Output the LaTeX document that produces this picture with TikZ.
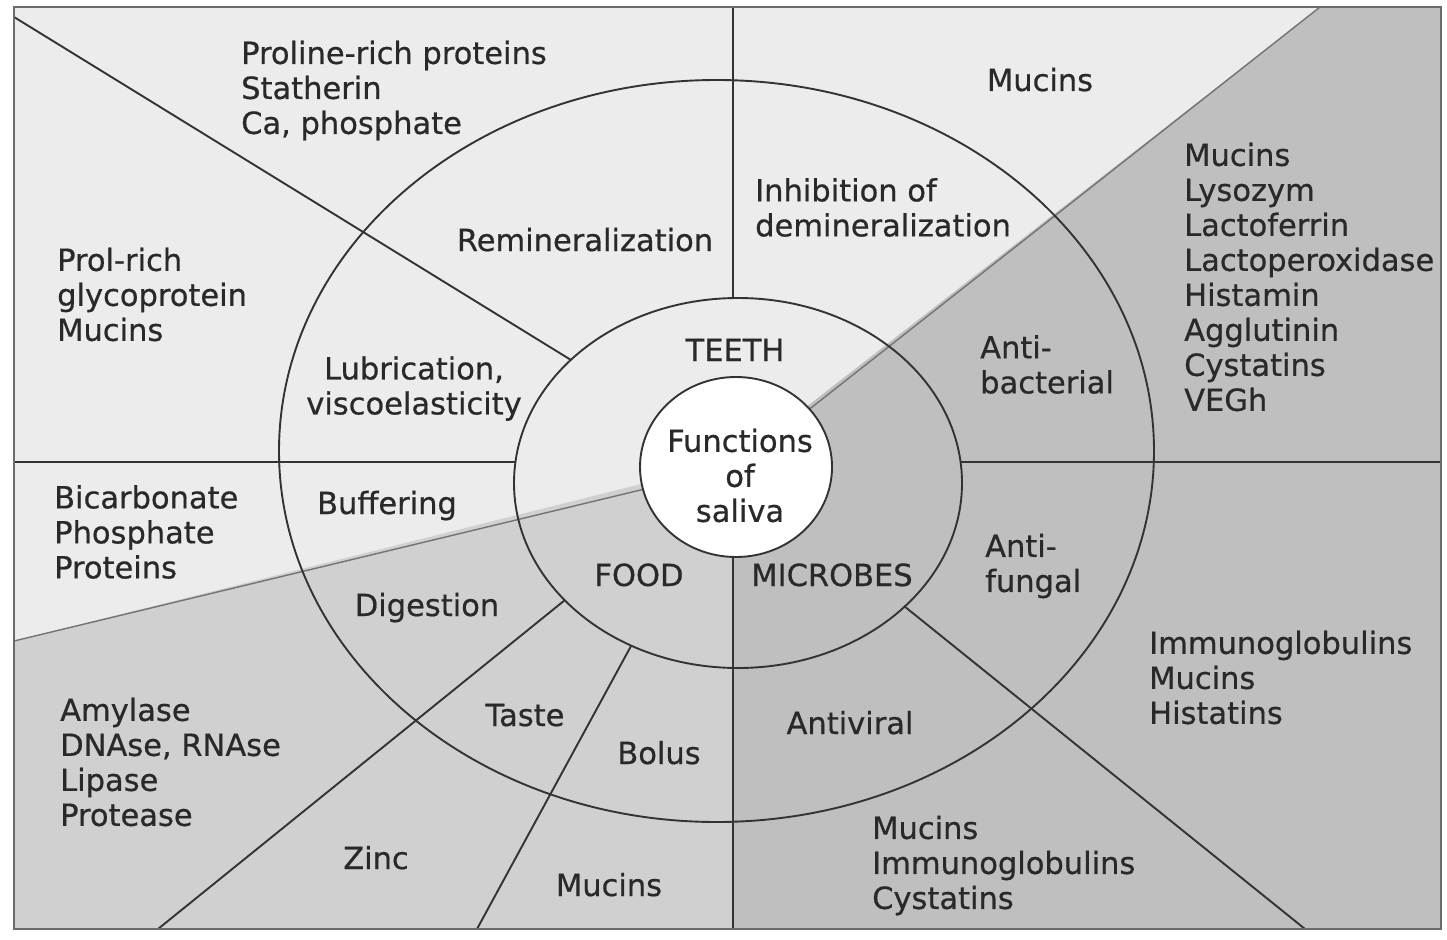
\documentclass[tikz,border=0pt]{standalone}
\usepackage{fontspec}
\setmainfont{DejaVu Sans}[FakeBold=0.6]
\usetikzlibrary{shapes.geometric}
\definecolor{bgteeth}{gray}{0.925}
\definecolor{bgfood}{gray}{0.815}
\definecolor{bgmicro}{gray}{0.75}
\definecolor{ink}{gray}{0.16}
\definecolor{rulec}{gray}{0.2}
\definecolor{framec}{gray}{0.42}
\definecolor{edgec}{gray}{0.45}
\begin{document}
\begin{tikzpicture}[x=1pt,y=-1pt,
  lbl/.style={font=\fontsize{30.5}{35}\selectfont, text=ink, inner sep=0pt},
  lbls/.style={lbl, text height=22pt, text depth=7pt},
  lblc/.style={lbl, align=center},
  lbll/.style={lbl, align=left, anchor=west},
  ring/.style={draw=rulec, line width=1.9pt},
  divider/.style={draw=rulec, line width=1.9pt},
  shadeedge/.style={draw=edgec, line width=1.4pt},
  framebox/.style={draw=framec, line width=2.5pt}]
\useasboundingbox (0,0) rectangle (1447,939);
\fill[white] (0,0) rectangle (1447,939);
% frame corners
\coordinate (ftl) at (14,7);
\coordinate (fbr) at (1441,929);
% shaded regions
\fill[bgteeth] (ftl) rectangle (fbr);
\fill[bgfood] (733,461) -- (14,641) -- (14,929) -- (733,929) -- cycle;
\fill[bgmicro] (733,464) -- (1320,7) -- (1441,7) -- (1441,929) -- (733,929) -- cycle;
% shading edges
\coordinate (hub) at (736,467);
\coordinate (edgeTR) at (1320,7);
\coordinate (edgeL) at (14,641);
\draw[shadeedge] (hub) -- (edgeTR);
\draw[shadeedge] (hub) -- (edgeL);
% rings
\draw[ring] (716.5,451) ellipse [x radius=437.5pt, y radius=371pt];
\draw[ring] (738,483) ellipse [x radius=224pt, y radius=185pt];
% dividers
\coordinate (d1a) at (14,17);   \coordinate (d1b) at (571,360);
\coordinate (d2a) at (733,7);   \coordinate (d2b) at (733,298);
\coordinate (d3a) at (14,462);  \coordinate (d3b) at (516,462);
\coordinate (d4a) at (961,462); \coordinate (d4b) at (1441,462);
\coordinate (d5a) at (733,500); \coordinate (d5b) at (733,929);
\coordinate (d6a) at (565,600); \coordinate (d6b) at (158,929);
\coordinate (d7a) at (631,646); \coordinate (d7b) at (477,929);
\coordinate (d8a) at (904,606); \coordinate (d8b) at (1305,929);
\draw[divider] (d1a) -- (d1b);
\draw[divider] (d2a) -- (d2b);
\draw[divider] (d3a) -- (d3b);
\draw[divider] (d4a) -- (d4b);
\draw[divider] (d5a) -- (d5b);
\draw[divider] (d6a) -- (d6b);
\draw[divider] (d7a) -- (d7b);
\draw[divider] (d8a) -- (d8b);
% core
\node[ellipse, draw=rulec, line width=1.9pt, fill=white, minimum width=192pt, minimum height=180pt, inner sep=0pt] (core) at (hub) {};
% frame
\draw[framebox] (ftl) rectangle (fbr);
% labels
\node[lbll] (proline) at (241,90.5) {Proline-rich proteins\\Statherin\\Ca, phosphate};
\node[lbll] (prolrich) at (57,294.5) {Prol-rich\\glycoprotein\\Mucins};
\node[lbls] (remin) at (585,243.5) {Remineralization};
\node[lbll] (inhib) at (755,207.5) {Inhibition of\\demineralization};
\node[lbls] (mucinstop) at (1040,83.5) {Mucins};
\node[lbll] (antibact) at (980,364.5) {Anti-\\bacterial};
\node[lbll] (bactlist) at (1184,277) {Mucins\\Lysozym\\Lactoferrin\\Lactoperoxidase\\Histamin\\Agglutinin\\Cystatins\\VEGh};
\node[lblc] (lubric) at (414,388.5) {Lubrication,\\viscoelasticity};
\node[lbls] (teeth) at (735,353.5) {TEETH};
\node[lblc] (fn) at (740,475.5) {Functions\\of\\saliva};
\node[lbls] (food) at (639,578.5) {FOOD};
\node[lbls] (microbes) at (832,578.5) {MICROBES};
\node[lbls] (buffer) at (387,506.5) {Buffering};
\node[lbll] (bicarb) at (54,532) {Bicarbonate\\Phosphate\\Proteins};
\node[lbls] (digest) at (427,608.5) {Digestion};
\node[lbll] (antifung) at (985,566) {Anti-\\fungal};
\node[lbll] (immlist) at (1149,677.5) {Immunoglobulins\\Mucins\\Histatins};
\node[lbll] (enzymes) at (60,762) {Amylase\\DNAse, RNAse\\Lipase\\Protease};
\node[lbls] (taste) at (525,718.5) {Taste};
\node[lbls] (bolus) at (659,756.5) {Bolus};
\node[lbls] (antiviral) at (850,726.5) {Antiviral};
\node[lbls] (zinc) at (376,861.5) {Zinc};
\node[lbls] (mucinsbot) at (609,888.5) {Mucins};
\node[lbll] (mucimm) at (872,865.5) {Mucins\\Immunoglobulins\\Cystatins};
\end{tikzpicture}
\end{document}
